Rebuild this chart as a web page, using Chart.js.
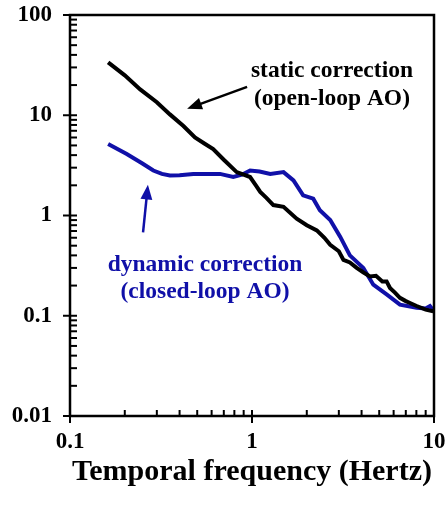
<!DOCTYPE html>
<html>
<head>
<meta charset="utf-8">
<script src="https://cdn.jsdelivr.net/npm/chart.js@4"></script>
<style>
  html, body { margin: 0; padding: 0; background: #fff; }
  #wrap { width: 445px; height: 505px; }
</style>
</head>
<body>
<div id="wrap"><canvas id="grafico"></canvas></div>
<script>
// frequencia (Hz) e espectro
var freq_estatica = [0.162, 0.2, 0.243, 0.3, 0.354, 0.42, 0.486, 0.55, 0.612, 0.7, 0.824, 0.9, 0.976, 1.05, 1.11, 1.2, 1.31, 1.49, 1.76, 2.0, 2.27, 2.5, 2.69, 3.0, 3.18, 3.45, 3.76, 4.1, 4.45, 4.8, 5.2, 5.49, 5.73, 6.1, 6.5, 7.0, 7.38, 8.03, 9.0, 9.9];
var val_estatica = [33.7, 25, 18.1, 13.5, 10.2, 7.8, 6.0, 5.2, 4.6, 3.6, 2.71, 2.55, 2.42, 2.0, 1.72, 1.5, 1.27, 1.22, 0.93, 0.8, 0.71, 0.6, 0.51, 0.44, 0.36, 0.34, 0.30, 0.27, 0.247, 0.25, 0.22, 0.22, 0.189, 0.17, 0.151, 0.14, 0.134, 0.125, 0.115, 0.111];

var freq_dinamica = [0.162, 0.205, 0.25, 0.287, 0.32, 0.354, 0.4, 0.476, 0.55, 0.667, 0.789, 0.88, 0.976, 1.1, 1.26, 1.49, 1.69, 1.91, 2.17, 2.36, 2.69, 3.05, 3.45, 4.09, 4.64, 5.49, 6.5, 8.03, 9.0, 9.5, 10];
var val_dinamica = [5.16, 4.11, 3.3, 2.81, 2.6, 2.51, 2.52, 2.6, 2.6, 2.6, 2.42, 2.55, 2.81, 2.75, 2.6, 2.71, 2.24, 1.59, 1.47, 1.13, 0.90, 0.615, 0.40, 0.30, 0.204, 0.163, 0.129, 0.12, 0.118, 0.125, 0.111];

// decadas dos eixos
var x_decadas = [0.1, 1, 10];
var y_decadas = [0.01, 0.1, 1, 10, 100];

var titulo_x = 'Temporal frequency (Hertz)';
var texto_estatica = ['static correction', '(open-loop AO)'];
var texto_dinamica = ['dynamic correction', '(closed-loop AO)'];

var PRETO = '#000000';
var AZUL = '#1010a8';
var FONTE = "'Liberation Serif', 'Times New Roman', serif";

function pontos(xs, ys) {
    var lista = [];
    for (var i = 0; i < xs.length; i++) lista.push({ x: xs[i], y: ys[i] });
    return lista;
}

// ticks 1..9 de cada decada
function ticks_log(decadas) {
    var t = [];
    for (var i = 0; i < decadas.length; i++) {
        t.push({ value: decadas[i], major: true });
        if (i < decadas.length - 1) {
            for (var k = 2; k <= 9; k++) t.push({ value: decadas[i] * k, major: false });
        }
    }
    return t;
}

function seta(ctx, x1, y1, x2, y2, cor, larg, comp) {
    var ang = Math.atan2(y2 - y1, x2 - x1);
    ctx.save();
    ctx.strokeStyle = cor;
    ctx.fillStyle = cor;
    ctx.lineWidth = larg;
    ctx.beginPath();
    ctx.moveTo(x1, y1);
    ctx.lineTo(x2 - Math.cos(ang) * comp * 0.8, y2 - Math.sin(ang) * comp * 0.8);
    ctx.stroke();
    ctx.beginPath();
    ctx.moveTo(x2, y2);
    ctx.lineTo(x2 - Math.cos(ang - 0.38) * comp, y2 - Math.sin(ang - 0.38) * comp);
    ctx.lineTo(x2 - Math.cos(ang + 0.38) * comp, y2 - Math.sin(ang + 0.38) * comp);
    ctx.closePath();
    ctx.fill();
    ctx.restore();
}

// moldura, marcas dos eixos e anotacoes
var moldura = {
    id: 'moldura',
    afterDraw: function (chart) {
        var ctx = chart.ctx;
        var a = chart.chartArea;
        var sx = chart.scales.x, sy = chart.scales.y;
        ctx.save();
        ctx.strokeStyle = PRETO;
        ctx.lineWidth = 2.5;
        ctx.beginPath();
        ctx.rect(a.left, a.top, a.right - a.left, a.bottom - a.top);
        ctx.stroke();
        ctx.lineWidth = 2;
        ticks_log(y_decadas).forEach(function (t) {
            var py = sy.getPixelForValue(t.value);
            ctx.beginPath();
            ctx.moveTo(t.major ? a.left - 7 : a.left, py);
            ctx.lineTo(a.left + 7, py);
            ctx.stroke();
        });
        ticks_log(x_decadas).forEach(function (t) {
            var px = sx.getPixelForValue(t.value);
            ctx.beginPath();
            ctx.moveTo(px, t.major ? a.bottom + 7 : a.bottom);
            ctx.lineTo(px, a.bottom - 6);
            ctx.stroke();
        });
        ctx.restore();

        // anotacao preta
        ctx.save();
        ctx.font = 'bold 23.5px ' + FONTE;
        ctx.textAlign = 'center';
        ctx.textBaseline = 'alphabetic';
        ctx.fillStyle = PRETO;
        var tx = sx.getPixelForValue(2.75), ty = sy.getPixelForValue(24.2);
        ctx.fillText(texto_estatica[0], tx, ty);
        ctx.fillText(texto_estatica[1], tx, ty + 28);
        seta(ctx, sx.getPixelForValue(0.94), sy.getPixelForValue(19.2),
            sx.getPixelForValue(0.44), sy.getPixelForValue(11.6), PRETO, 2.5, 16);

        // anotacao azul
        ctx.fillStyle = AZUL;
        var bx = sx.getPixelForValue(0.552), by = sy.getPixelForValue(0.277);
        ctx.fillText(texto_dinamica[0], bx, by);
        ctx.fillText(texto_dinamica[1], bx, by + 27);
        seta(ctx, sx.getPixelForValue(0.252), sy.getPixelForValue(0.678),
            sx.getPixelForValue(0.268), sy.getPixelForValue(2.03), AZUL, 2.5, 16);
        ctx.restore();
    }
};

var ctx = document.getElementById('grafico').getContext('2d');
var grafico = new Chart(ctx, {
    type: 'scatter',
    data: {
        datasets: [
            {
                label: 'static correction',
                data: pontos(freq_estatica, val_estatica),
                showLine: true,
                borderColor: PRETO,
                borderWidth: 4,
                pointRadius: 0,
                tension: 0
            },
            {
                label: 'dynamic correction',
                data: pontos(freq_dinamica, val_dinamica),
                showLine: true,
                borderColor: AZUL,
                borderWidth: 4,
                pointRadius: 0,
                tension: 0
            }
        ]
    },
    options: {
        responsive: true,
        maintainAspectRatio: false,
        animation: false,
        layout: { padding: { top: 15, right: 11, left: 0, bottom: 0 } },
        plugins: { legend: { display: false }, tooltip: { enabled: false } },
        scales: {
            x: {
                type: 'logarithmic',
                min: 0.1,
                max: 10,
                grid: { display: false, drawTicks: false },
                border: { display: false },
                afterBuildTicks: function (s) {
                    s.ticks = ticks_log(x_decadas);
                },
                afterFit: function (s) {
                    s.height = 89;
                    s.paddingLeft = 0;
                    s.paddingRight = 0;
                },
                ticks: {
                    autoSkip: false,
                    maxRotation: 0,
                    padding: 12,
                    color: PRETO,
                    font: { family: FONTE, size: 23, weight: 'bold' },
                    callback: function (v) {
                        return x_decadas.indexOf(v) >= 0 ? String(v) : '';
                    }
                },
                title: {
                    display: true,
                    text: titulo_x,
                    color: PRETO,
                    font: { family: FONTE, size: 30, weight: 'bold' },
                    padding: { top: 0, bottom: 15 }
                }
            },
            y: {
                type: 'logarithmic',
                min: 0.01,
                max: 100,
                grid: { display: false, drawTicks: false },
                border: { display: false },
                afterBuildTicks: function (s) {
                    s.ticks = ticks_log(y_decadas);
                },
                afterFit: function (s) {
                    s.width = 70;
                    s.paddingTop = 0;
                    s.paddingBottom = 0;
                },
                ticks: {
                    autoSkip: false,
                    padding: 18,
                    color: PRETO,
                    font: { family: FONTE, size: 23, weight: 'bold' },
                    callback: function (v) {
                        return y_decadas.indexOf(v) >= 0 ? String(v) : '';
                    }
                }
            }
        }
    },
    plugins: [moldura]
});
</script>
</body>
</html>
